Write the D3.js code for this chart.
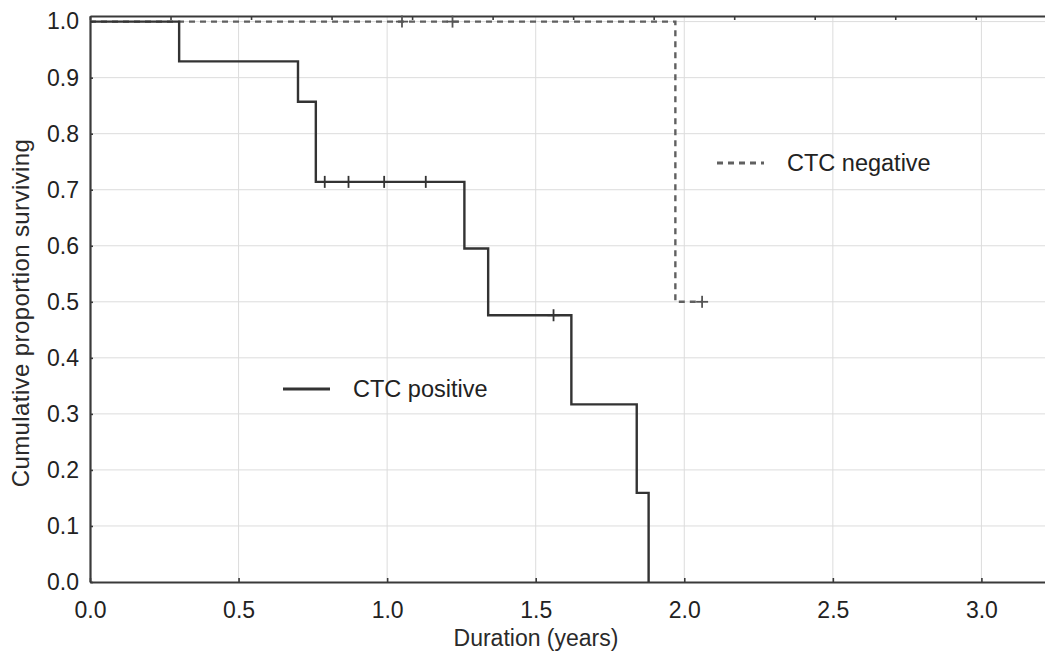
<!DOCTYPE html>
<html>
<head>
<meta charset="utf-8">
<script src="https://cdn.jsdelivr.net/npm/d3@7"></script>
<style>
  body { margin: 0; background: #fff; }
  svg { display: block; font-family: "Liberation Sans", Arial, sans-serif; }
  .grid line { stroke: #dcdcdc; stroke-width: 1; }
  .tick-label { fill: #222; font-size: 23px; }
</style>
</head>
<body>
<svg id="chart" width="1045" height="653"></svg>
<script>
// Kaplan-Meier steps: time (years) where survival drops, survival level after drop
var posTimes = [0, 0.30, 0.70, 0.76, 1.26, 1.34, 1.62, 1.84, 1.88];
var posSurv = [1.0, 0.929, 0.857, 0.714, 0.595, 0.476, 0.317, 0.159, 0.0];
var posCensored = [0.79, 0.87, 0.99, 1.13, 1.56];
var posCensSurv = [0.714, 0.714, 0.714, 0.714, 0.476];

var negTimes = [0, 1.97];
var negSurv = [1.0, 0.5];
var negEnd = 2.06;
var negCensored = [1.05, 1.22, 2.06];
var negCensSurv = [1.0, 1.0, 0.5];

var xTicks = [0, 0.5, 1.0, 1.5, 2.0, 2.5, 3.0];
var yTicks = [0, 0.1, 0.2, 0.3, 0.4, 0.5, 0.6, 0.7, 0.8, 0.9, 1.0];
var topTickStep = 0.271;

(function() {
var svg = d3.select('#chart');
var pLeft = 90, pRight = 1045, pTop = 16, pBottom = 582;

var x = d3.scaleLinear().domain([0, 3.214]).range([pLeft, pRight]);
var y = d3.scaleLinear().domain([0, 1.01]).range([pBottom, pTop]);

// grid
var grid = svg.append('g').attr('class', 'grid');
grid.selectAll('.gx').data(xTicks.slice(1)).enter().append('line')
    .attr('x1', function(d) { return x(d); }).attr('x2', function(d) { return x(d); })
    .attr('y1', pTop).attr('y2', pBottom);
grid.selectAll('.gy').data(yTicks.slice(1)).enter().append('line')
    .attr('x1', pLeft).attr('x2', pRight)
    .attr('y1', function(d) { return y(d); }).attr('y2', function(d) { return y(d); });

// axes
var xAxis = d3.axisBottom(x).tickValues(xTicks).tickFormat(d3.format('.1f'))
    .tickSizeInner(-4).tickSizeOuter(0).tickPadding(20);
var gx = svg.append('g').attr('transform', 'translate(0,' + pBottom + ')').call(xAxis);

var yAxis = d3.axisLeft(y).tickValues(yTicks).tickFormat(d3.format('.1f'))
    .tickSizeInner(-3).tickSizeOuter(0).tickPadding(11);
var gy = svg.append('g').attr('transform', 'translate(' + pLeft + ',0)').call(yAxis);

var topAxis = d3.axisTop(x).tickValues(d3.range(0, 3.214, topTickStep))
    .tickSizeInner(-4).tickSizeOuter(0).tickFormat('');
var gt = svg.append('g').attr('transform', 'translate(0,' + pTop + ')').call(topAxis);

[gx, gy, gt].forEach(function(g) {
    g.select('.domain').attr('stroke', '#3a3a3a').attr('stroke-width', 2.2);
    g.selectAll('.tick line').attr('stroke', '#3a3a3a').attr('stroke-width', 1.6);
    g.selectAll('.tick text').attr('class', 'tick-label')
        .style('font-family', '"Liberation Sans", Arial, sans-serif');
});

// step paths
function stepPoints(times, surv, endT) {
    var pts = [];
    for (var i = 0; i < times.length; i++) {
        var next = i < times.length - 1 ? times[i + 1] : endT;
        pts.push([times[i], surv[i]]);
        pts.push([next, surv[i]]);
    }
    return pts;
}
var line = d3.line().x(function(d) { return x(d[0]); }).y(function(d) { return y(d[1]); });

svg.append('path')
    .datum(stepPoints(negTimes, negSurv, negEnd))
    .attr('d', line)
    .attr('fill', 'none')
    .attr('stroke', '#606060')
    .attr('stroke-width', 2.4)
    .attr('stroke-dasharray', '6,5');

svg.append('path')
    .datum(stepPoints(posTimes, posSurv, posTimes[posTimes.length - 1]))
    .attr('d', line)
    .attr('fill', 'none')
    .attr('stroke', '#333')
    .attr('stroke-width', 2.4);

// censor marks
function censor(times, surv, color) {
    var g = svg.append('g');
    times.forEach(function(t, i) {
        var cx = x(t), cy = y(surv[i]);
        g.append('line').attr('x1', cx).attr('x2', cx).attr('y1', cy - 6).attr('y2', cy + 6)
            .attr('stroke', color).attr('stroke-width', 1.8);
        g.append('line').attr('x1', cx - 6).attr('x2', cx + 6).attr('y1', cy).attr('y2', cy)
            .attr('stroke', color).attr('stroke-width', 1.8);
    });
}
censor(posCensored, posCensSurv, '#333');
censor(negCensored, negCensSurv, '#555');

// legend
svg.append('line').attr('x1', 717).attr('x2', 764).attr('y1', 163).attr('y2', 163)
    .attr('stroke', '#606060').attr('stroke-width', 3).attr('stroke-dasharray', '6,5');
svg.append('text').attr('x', 787).attr('y', 171).attr('font-size', 23.5).attr('fill', '#222')
    .text('CTC negative');
svg.append('line').attr('x1', 283).attr('x2', 330).attr('y1', 389).attr('y2', 389)
    .attr('stroke', '#333').attr('stroke-width', 3);
svg.append('text').attr('x', 353).attr('y', 397).attr('font-size', 23.5).attr('fill', '#222')
    .text('CTC positive');

// axis titles
svg.append('text').attr('x', 536).attr('y', 646).attr('text-anchor', 'middle')
    .attr('font-size', 23).attr('fill', '#2a2a2a').text('Duration (years)');
svg.append('text').attr('transform', 'translate(29,313) rotate(-90)')
    .attr('text-anchor', 'middle').attr('font-size', 24).attr('letter-spacing', 0.4)
    .attr('fill', '#2a2a2a')
    .text('Cumulative proportion surviving');
})();
</script>
</body>
</html>
